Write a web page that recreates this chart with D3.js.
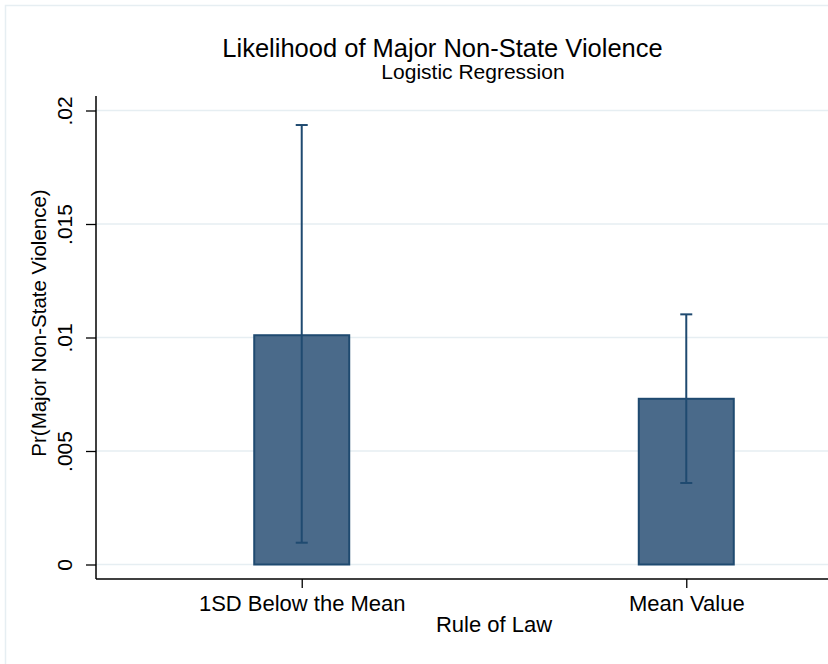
<!DOCTYPE html>
<html>
<head>
<meta charset="utf-8">
<script src="https://cdn.jsdelivr.net/npm/d3@7"></script>
<style>
  body { margin: 0; background: #fff; }
  text { font-family: "Liberation Sans", Arial, sans-serif; fill: #000; }
</style>
</head>
<body>
<svg id="chart"></svg>
<script>
// data
var categories = ["1SD Below the Mean", "Mean Value"];
var probs = [0.0101, 0.0073];
var ciLow = [0.00096, 0.00359];
var ciHigh = [0.01936, 0.01102];
var yTicks = [0, 0.005, 0.01, 0.015, 0.02];
var yTickLabels = ["0", ".005", ".01", ".015", ".02"];

var W = 828, H = 664;
var svg = d3.select("#chart").attr("width", W).attr("height", H);

// outer graph region border (runs off the right/bottom edge)
svg.append("rect")
    .attr("x", 5.5).attr("y", 5.5)
    .attr("width", W + 40).attr("height", H + 40)
    .attr("fill", "none")
    .attr("stroke", "#e6eef2")
    .attr("stroke-width", 1.5);

var plotL = 96, plotR = 892, plotT = 96, plotB = 579;

var x = d3.scalePoint()
    .domain(categories)
    .range([plotL, plotR])
    .padding(0.535);

var y = d3.scaleLinear()
    .domain([0, 0.02])
    .range([564.5, 110.5]);

var barW = 95;

// grid lines
svg.append("g")
    .selectAll("line")
    .data(yTicks)
    .enter().append("line")
    .attr("x1", plotL).attr("x2", plotR)
    .attr("y1", d => y(d)).attr("y2", d => y(d))
    .attr("stroke", "#e6eef2")
    .attr("stroke-width", 1.5);

// bars
svg.append("g")
    .selectAll("rect")
    .data(categories)
    .enter().append("rect")
    .attr("x", d => x(d) - barW / 2)
    .attr("y", (d, i) => y(probs[i]))
    .attr("width", barW)
    .attr("height", (d, i) => y(0) - y(probs[i]))
    .attr("fill", "#4a6a8a")
    .attr("stroke", "#1f4a70")
    .attr("stroke-width", 2);

// confidence intervals
var ci = svg.append("g")
    .attr("stroke", "#1f4a70")
    .attr("stroke-width", 2);
categories.forEach(function (c, i) {
  ci.append("line")
      .attr("x1", x(c)).attr("x2", x(c))
      .attr("y1", y(ciLow[i])).attr("y2", y(ciHigh[i]));
  [ciLow[i], ciHigh[i]].forEach(function (v) {
    ci.append("line")
        .attr("x1", x(c) - 6).attr("x2", x(c) + 6)
        .attr("y1", y(v)).attr("y2", y(v));
  });
});

// y axis
var yAxis = svg.append("g")
    .attr("transform", `translate(${plotL},0)`)
    .call(d3.axisLeft(y).tickValues(yTicks)
        .tickFormat((d, i) => yTickLabels[i])
        .tickSize(10).tickPadding(0));
yAxis.select(".domain").attr("d", `M0,${plotT}V${plotB}`)
    .attr("stroke", "#000").attr("stroke-width", 1.5);
yAxis.selectAll(".tick line").attr("stroke", "#000").attr("stroke-width", 1.3);
yAxis.selectAll(".tick text")
    .attr("x", 0).attr("dy", null)
    .attr("transform", "translate(-24,0) rotate(-90)")
    .attr("text-anchor", "middle")
    .style("font-size", "21px")
    .style("font-family", "Liberation Sans, Arial, sans-serif");

// x axis
var xAxis = svg.append("g")
    .attr("transform", `translate(0,${plotB})`)
    .call(d3.axisBottom(x).tickSize(9).tickPadding(0));
xAxis.select(".domain").attr("d", `M${plotL},0H${plotR}`)
    .attr("stroke", "#000").attr("stroke-width", 1.5);
xAxis.selectAll(".tick line").attr("stroke", "#000").attr("stroke-width", 1.3);
xAxis.selectAll(".tick text")
    .attr("y", 32).attr("dy", null)
    .style("font-size", "22px")
    .style("font-family", "Liberation Sans, Arial, sans-serif");

// axis titles
svg.append("text")
    .attr("transform", "translate(46,323) rotate(-90)")
    .attr("text-anchor", "middle")
    .style("font-size", "20.5px")
    .text("Pr(Major Non-State Violence)");

svg.append("text")
    .attr("x", (plotL + plotR) / 2).attr("y", 632)
    .attr("text-anchor", "middle")
    .style("font-size", "22px")
    .text("Rule of Law");

// titles
svg.append("text")
    .attr("x", 442.5).attr("y", 57)
    .attr("text-anchor", "middle")
    .style("font-size", "25.5px")
    .text("Likelihood of Major Non-State Violence");

svg.append("text")
    .attr("x", 473).attr("y", 79)
    .attr("text-anchor", "middle")
    .style("font-size", "21px")
    .text("Logistic Regression");
</script>
</body>
</html>
